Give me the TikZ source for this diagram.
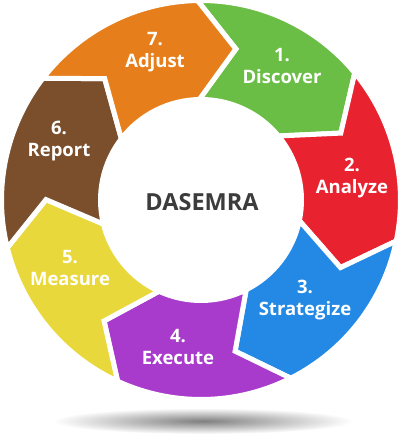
\documentclass[tikz,border=0pt]{standalone}
\usepackage{fontspec}
\setmainfont{Open Sans}
\usetikzlibrary{calc}
\definecolor{cgreen}{HTML}{6BBE45}
\definecolor{cred}{HTML}{E8232F}
\definecolor{cblue}{HTML}{2389E5}
\definecolor{cpurple}{HTML}{A93BCC}
\definecolor{cyellow}{HTML}{E9D83B}
\definecolor{cbrown}{HTML}{7B4F2B}
\definecolor{corange}{HTML}{E67F1B}
\definecolor{ctext}{HTML}{3C3C3C}
\tikzset{
  seg/.style={fill=#1, draw=white, line width=5pt, line join=miter, miter limit=10},
  lbl/.style={text=white, align=center, font=\fontsize{18.5}{22}\selectfont\bfseries, inner sep=0pt},
  hub/.style={text=ctext, font=\fontsize{23.5}{26}\selectfont\bfseries, inner sep=0pt}
}
\newcommand{\ringseg}[2]{%
  \pgfmathsetmacro{\sa}{#1}%
  \pgfmathsetmacro{\sb}{#1-51.4286}%
  \pgfmathsetmacro{\sbd}{\sb-14}%
  \pgfmathsetmacro{\sad}{\sa-14}%
  \path[seg=#2] (\sa:199.5) arc[start angle=\sa, end angle=\sb, radius=199.5pt]
    -- (\sbd:155) -- (\sb:100.5) arc[start angle=\sb, end angle=\sa, radius=100.5pt]
    -- (\sad:155) -- cycle;
}
\begin{document}
\begin{tikzpicture}[x=1pt, y=1pt]
\useasboundingbox (0,0) rectangle (400,-442);
\fill[white] (0,0) rectangle (400,-442);
\shade[inner color=black!50, outer color=white] (203,-421) ellipse (150 and 13);
\begin{scope}[shift={(201,-200)}]
  \ringseg{91}{cgreen}
  \ringseg{91-51.4286}{cred}
  \ringseg{91-2*51.4286}{cblue}
  \ringseg{91-3*51.4286}{cpurple}
  \ringseg{91-4*51.4286}{cyellow}
  \ringseg{91-5*51.4286}{cbrown}
  \ringseg{91-6*51.4286}{corange}
\end{scope}
\node[lbl] (t1) at (282,-66) {1.\\Discover};
\node[lbl] (t2) at (352,-178) {2.\\Analyze};
\node[lbl] (t3) at (305,-300) {3.\\Strategize};
\node[lbl] (t4) at (178,-347) {4.\\Execute};
\node[lbl] (t5) at (70,-268) {5.\\Measure};
\node[lbl] (t6) at (59,-141) {6.\\Report};
\node[lbl] (t7) at (155,-52) {7.\\Adjust};
\node[hub] (hub) at (202,-202) {DASEMRA};
\end{tikzpicture}
\end{document}
